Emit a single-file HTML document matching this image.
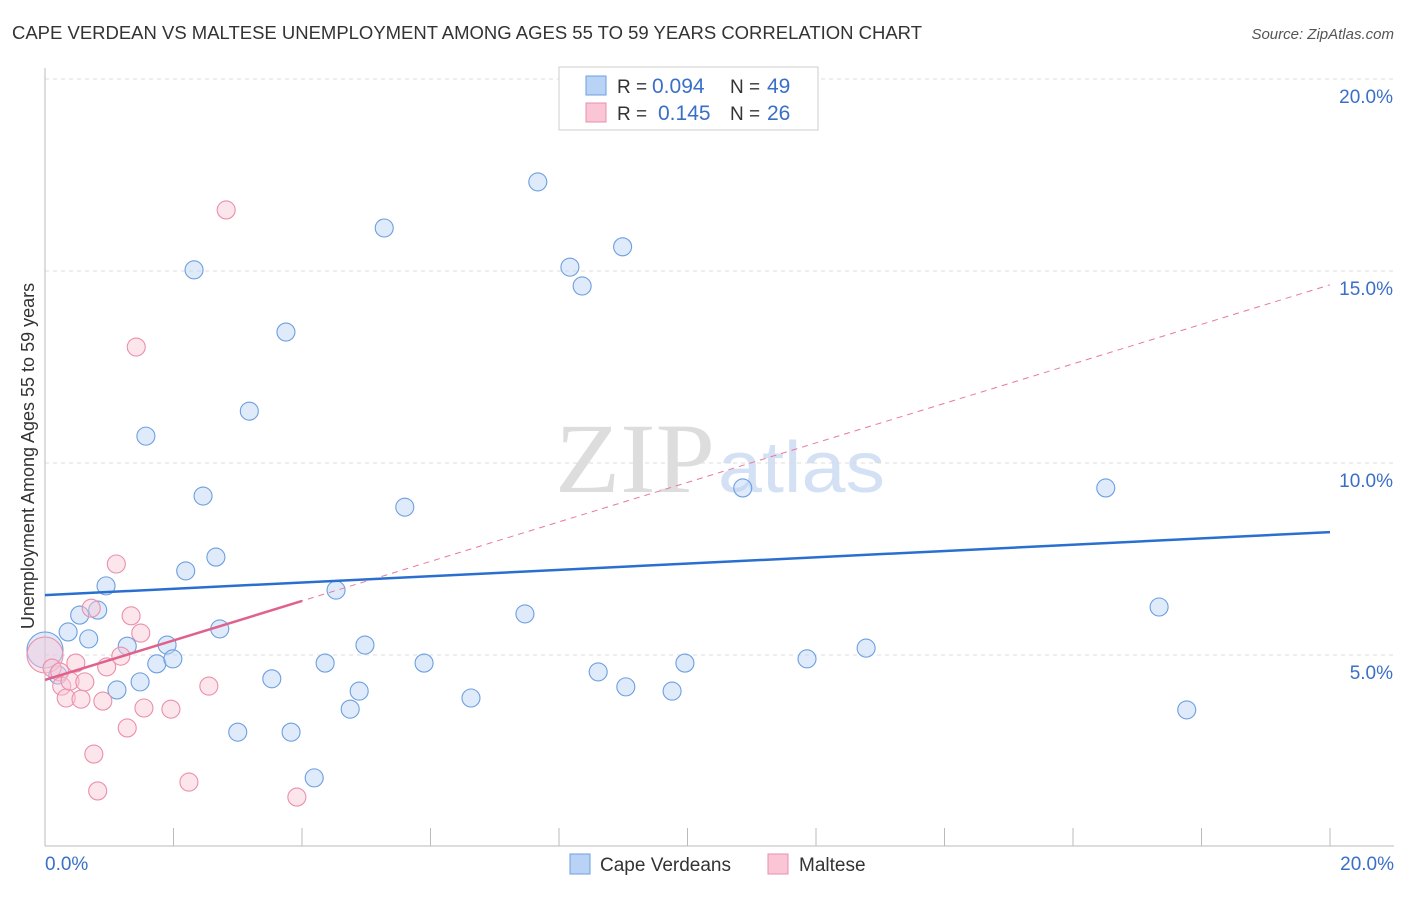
<!DOCTYPE html>
<html><head><meta charset="utf-8"><style>
body{margin:0;background:#fff;font-family:"Liberation Sans",sans-serif;}
</style></head><body>
<svg width="1406" height="892" xmlns="http://www.w3.org/2000/svg">
<text x="12" y="39" font-size="18" fill="#333" textLength="910" lengthAdjust="spacingAndGlyphs">CAPE VERDEAN VS MALTESE UNEMPLOYMENT AMONG AGES 55 TO 59 YEARS CORRELATION CHART</text>
<text x="1394" y="39" font-size="15" fill="#555" font-style="italic" text-anchor="end">Source: ZipAtlas.com</text>
<text x="555" y="492" font-size="100" fill="#ddd" textLength="160" lengthAdjust="spacingAndGlyphs" font-family="Liberation Serif,serif">ZIP</text>
<text x="718" y="492" font-size="72" fill="#d4e0f4" textLength="167" lengthAdjust="spacingAndGlyphs">atlas</text>
<g id="grid"></g>
<g id="axes"></g>
<g id="marks"></g>
<text transform="translate(34,456) rotate(-90)" font-size="18" fill="#333" text-anchor="middle">Unemployment Among Ages 55 to 59 years</text>
<g>
<rect x="559" y="67" width="259" height="63" fill="#fff" stroke="#ccc"/>
<rect x="586" y="76" width="20" height="19" fill="#b8d3f5" stroke="#6c9fe0"/>
<rect x="586" y="103" width="20" height="19" fill="#fac5d5" stroke="#ea8fab"/>
<text x="617" y="93" font-size="19" fill="#333">R =</text>
<text x="652" y="93" font-size="21" fill="#3a6fc8">0.094</text>
<text x="730" y="93" font-size="19" fill="#333">N =</text>
<text x="767" y="93" font-size="21" fill="#3a6fc8">49</text>
<text x="617" y="120" font-size="19" fill="#333">R =</text>
<text x="658" y="120" font-size="21" fill="#3a6fc8">0.145</text>
<text x="730" y="120" font-size="19" fill="#333">N =</text>
<text x="767" y="120" font-size="21" fill="#3a6fc8">26</text>
</g>
<g>
<rect x="570" y="854" width="20" height="20" fill="#b8d3f5" stroke="#6c9fe0"/>
<text x="600" y="871" font-size="19" fill="#333">Cape Verdeans</text>
<rect x="768" y="854" width="20" height="20" fill="#fac5d5" stroke="#ea8fab"/>
<text x="799" y="871" font-size="19" fill="#333">Maltese</text>
</g>
</svg>
<script>
const blueX=[0.0,0.20,0.36,0.54,0.68,0.82,0.95,1.12,1.28,1.48,1.57,1.74,1.90,1.99,2.19,2.32,2.46,2.66,2.72,3.00,3.18,3.53,3.75,3.83,4.19,4.36,4.53,4.75,4.89,4.98,5.28,5.60,5.90,6.63,7.47,7.67,8.17,8.36,8.61,8.99,9.04,9.76,9.96,10.86,11.86,12.78,16.51,17.34,17.77];
const blueY=[5.13,4.48,5.60,6.04,5.42,6.17,6.80,4.09,5.23,4.30,10.70,4.77,5.26,4.90,7.19,15.03,9.14,7.55,5.68,2.99,11.35,4.38,13.41,2.99,1.80,4.79,6.69,3.59,4.06,5.26,16.12,8.85,4.79,3.88,6.07,17.32,15.10,14.61,4.56,15.63,4.17,4.06,4.79,9.35,4.90,5.18,9.35,6.25,3.57];
const pinkX=[0.0,0.11,0.23,0.26,0.33,0.39,0.48,0.56,0.62,0.72,0.76,0.82,0.90,0.96,1.11,1.18,1.28,1.34,1.42,1.49,1.54,1.96,2.24,2.55,2.82,3.92];
const pinkY=[5.0,4.66,4.56,4.19,3.88,4.32,4.79,3.85,4.30,6.22,2.42,1.46,3.80,4.69,7.37,4.97,3.10,6.02,13.02,5.57,3.62,3.59,1.69,4.19,16.59,1.30];
const blueTrend=[6.56,8.20];
const pinkTrend=[4.35,14.64];
const pinkSolidEnd=4.0;
const yTicks=[5,10,15,20];
const xTickVals=[0,2,4,6,8,10,12,14,16,18,20];
const NS='http://www.w3.org/2000/svg';
const sx=v=>45+v*64.25, sy=v=>847-v*38.4;
function mk(tag,attrs,parent){const e=document.createElementNS(NS,tag);for(const k in attrs)e.setAttribute(k,attrs[k]);document.getElementById(parent).appendChild(e);return e;}
yTicks.forEach(t=>{
 const g=mk('line',{x1:45,x2:1394,y1:sy(t),y2:sy(t),stroke:'#ddd','stroke-dasharray':'4,4'},'grid');
 
 
 const l=mk('text',{x:1393,y:sy(t)+24,'font-size':19,fill:'#3a6fc8','text-anchor':'end'},'axes');l.textContent=t.toFixed(1)+'%';
 
 
});
mk('line',{x1:45,x2:45,y1:68,y2:846,stroke:'#bbb'},'axes');
mk('line',{x1:45,x2:1394,y1:846,y2:846,stroke:'#bbb'},'axes');
xTickVals.forEach(t=>{
 const tk=mk('line',{x1:sx(t),x2:sx(t),y1:828,y2:846,stroke:'#bbb'},'axes');
 
 
});
[[0,'0.0%','start',45],[20,'20.0%','end',1394]].forEach(d=>{
 const l=mk('text',{x:d[3],y:870,'font-size':19,fill:'#3a6fc8','text-anchor':d[2]},'axes');l.textContent=d[1];
 
 
});
function dots(X,Y,fill,stroke,name){
 X.forEach((x,i)=>{
  const r=(i===0)?18:9;
  const c=mk('circle',{cx:sx(x),cy:sy(Y[i]),r:r,fill:fill,'fill-opacity':0.45,stroke:stroke,'stroke-width':1.1},'marks');
  
  
 });
}
dots(blueX,blueY,'#b8d3f5','#6c9fe0','cape-verdean-point');
dots(pinkX,pinkY,'#fac5d5','#ea8fab','maltese-point');
const pd=mk('line',{x1:sx(0),y1:sy(pinkTrend[0]),x2:sx(20),y2:sy(pinkTrend[1]),stroke:'#e8799d','stroke-width':1,'stroke-dasharray':'6,5'},'marks');


const pe=pinkTrend[0]+(pinkTrend[1]-pinkTrend[0])*pinkSolidEnd/20;
const ps=mk('line',{x1:sx(0),y1:sy(pinkTrend[0]),x2:sx(pinkSolidEnd),y2:sy(pe),stroke:'#e0628c','stroke-width':2.5},'marks');


const bl=mk('line',{x1:sx(0),y1:sy(blueTrend[0]),x2:sx(20),y2:sy(blueTrend[1]),stroke:'#2a6fd0','stroke-width':2.5},'marks');


</script>
</body></html>
